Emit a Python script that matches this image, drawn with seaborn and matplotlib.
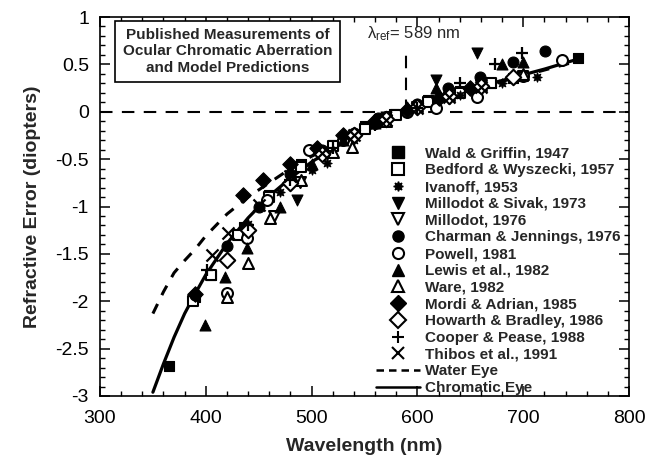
import matplotlib
matplotlib.use("Agg")
import matplotlib.pyplot as plt
from matplotlib.lines import Line2D
from matplotlib.ticker import MultipleLocator
import seaborn as sns
import pandas as pd

# ---- measurement data (wavelength in nm, refractive error in diopters) ----
wald_wl = [365, 390, 405, 436, 460, 490, 520, 550, 578, 610, 640, 670, 690, 752]
wald_re = [-2.68, -1.95, -1.72, -1.22, -0.88, -0.55, -0.35, -0.15, -0.02, 0.12, 0.22, 0.30, 0.36, 0.57]

bedford_wl = [388, 405, 430, 460, 490, 520, 550, 580, 610, 640, 670, 700]
bedford_re = [-2.00, -1.72, -1.30, -0.90, -0.58, -0.36, -0.18, -0.03, 0.10, 0.20, 0.30, 0.38]

ivanoff_wl = [440, 470, 500, 515, 540, 570, 600, 640, 680, 713]
ivanoff_re = [-1.18, -0.85, -0.62, -0.54, -0.30, -0.10, 0.05, 0.18, 0.30, 0.37]

sivak_wl = [486, 530, 570, 618, 656]
sivak_re = [-0.93, -0.30, -0.06, 0.34, 0.62]

millodot_wl = [464, 489, 510, 540, 570, 600, 630, 660]
millodot_re = [-1.10, -0.74, -0.44, -0.26, -0.10, 0.05, 0.15, 0.28]

charman_wl = [390, 420, 450, 480, 510, 540, 563, 600, 629, 659, 690, 721]
charman_re = [-1.93, -1.42, -1.00, -0.66, -0.40, -0.22, -0.07, 0.08, 0.25, 0.37, 0.53, 0.64]

powell_wl = [420, 439, 458, 498, 530, 560, 590, 618, 656, 700, 737]
powell_re = [-1.91, -1.33, -0.93, -0.40, -0.30, -0.12, 0.00, 0.04, 0.16, 0.38, 0.55]

lewis_wl = [399, 418, 439, 470, 500, 530, 560, 590, 618, 680, 700]
lewis_re = [-2.25, -1.74, -1.44, -1.00, -0.55, -0.30, -0.12, 0.05, 0.25, 0.50, 0.52]

ware_wl = [420, 440, 461, 490, 520, 538, 570, 600, 630, 660, 700]
ware_re = [-1.96, -1.60, -1.12, -0.72, -0.42, -0.37, -0.10, 0.06, 0.18, 0.28, 0.40]

mordi_wl = [390, 435, 454, 480, 505, 530, 560, 590, 620, 650]
mordi_re = [-1.92, -0.88, -0.72, -0.55, -0.38, -0.25, -0.10, 0.02, 0.15, 0.25]

howarth_wl = [420, 440, 480, 510, 540, 570, 600, 630, 660, 690]
howarth_re = [-1.56, -1.25, -0.75, -0.45, -0.25, -0.08, 0.05, 0.17, 0.27, 0.37]

cooper_wl = [401, 440, 480, 520, 560, 600, 640, 673, 699]
cooper_re = [-1.67, -1.20, -0.72, -0.38, -0.14, 0.04, 0.30, 0.50, 0.62]

thibos_wl = [406, 421, 450, 480, 510, 540, 570, 600, 630, 660]
thibos_re = [-1.51, -1.28, -0.98, -0.68, -0.44, -0.25, -0.09, 0.04, 0.16, 0.26]

# ---- model predictions ----
water_wl = [350, 360, 370, 380, 390, 400, 420, 440, 460, 480, 500, 520, 540, 560,
            580, 600, 620, 650, 680, 700, 720, 750]
water_re = [-2.13, -1.90, -1.70, -1.57, -1.45, -1.31, -1.08, -0.90, -0.75, -0.60, -0.47,
            -0.36, -0.25, -0.15, -0.05, 0.04, 0.12, 0.23, 0.32, 0.38, 0.44, 0.53]

chrom_wl = [350, 360, 370, 380, 390, 400, 420, 440, 460, 480, 500, 520, 540, 560,
            580, 600, 620, 640, 660, 680, 700, 720, 750]
chrom_re = [-2.96, -2.66, -2.38, -2.13, -1.92, -1.72, -1.39, -1.12, -0.89, -0.70, -0.53,
            -0.39, -0.26, -0.15, -0.05, 0.04, 0.12, 0.20, 0.27, 0.33, 0.39, 0.45, 0.55]

studies = [
    ("Wald & Griffin, 1947", wald_wl, wald_re, "s", True),
    ("Bedford & Wyszecki, 1957", bedford_wl, bedford_re, "s", False),
    ("Ivanoff, 1953", ivanoff_wl, ivanoff_re, (8, 1, 0), True),
    ("Millodot & Sivak, 1973", sivak_wl, sivak_re, "v", True),
    ("Millodot, 1976", millodot_wl, millodot_re, "v", False),
    ("Charman & Jennings, 1976", charman_wl, charman_re, "o", True),
    ("Powell, 1981", powell_wl, powell_re, "o", False),
    ("Lewis et al., 1982", lewis_wl, lewis_re, "^", True),
    ("Ware, 1982", ware_wl, ware_re, "^", False),
    ("Mordi & Adrian, 1985", mordi_wl, mordi_re, "D", True),
    ("Howarth & Bradley, 1986", howarth_wl, howarth_re, "D", False),
    ("Cooper & Pease, 1988", cooper_wl, cooper_re, "+", True),
    ("Thibos et al., 1991", thibos_wl, thibos_re, "x", True),
]

sns.set_theme(style="ticks")
plt.rcParams["font.family"] = ["Liberation Sans", "DejaVu Sans"]
plt.rcParams["mathtext.fontset"] = "custom"
plt.rcParams["mathtext.rm"] = "Liberation Sans"
plt.rcParams["mathtext.it"] = "Liberation Sans:italic"

fig = plt.figure(figsize=(6.48, 4.66), dpi=100)
ax = fig.add_axes([100 / 648, 1 - 396 / 466, 529 / 648, 379 / 466])

# reference lines
ax.axhline(0, color="black", lw=1.5, dashes=(6, 4.5), zorder=1)
ax.plot([589, 589], [0, 0.65], color="black", lw=1.5, dashes=(6, 4.5), zorder=1)

# model curves
model_df = pd.DataFrame({"wl": water_wl, "re": water_re})
sns.lineplot(data=model_df, x="wl", y="re", ax=ax, color="black", lw=2.2,
             dashes=False, zorder=2).lines[-1].set_dashes((3.5, 3.2))
chrom_df = pd.DataFrame({"wl": chrom_wl, "re": chrom_re})
sns.lineplot(data=chrom_df, x="wl", y="re", ax=ax, color="black", lw=2.3, zorder=2)

# measurements
handles = []
for label, wl, re_, mk, filled in studies:
    size = 62
    if mk == (8, 1, 0):
        size = 45
    if mk in ("+", "x"):
        sns.scatterplot(x=wl, y=re_, ax=ax, marker=mk, s=75, color="black",
                        linewidth=1.6, zorder=3)
        h = Line2D([], [], ls="none", marker=mk, color="black", markersize=9,
                   markeredgewidth=1.5)
    elif filled:
        sns.scatterplot(x=wl, y=re_, ax=ax, marker=mk, s=size, color="black",
                        edgecolor="black", linewidth=0.8, zorder=3)
        h = Line2D([], [], ls="none", marker=mk, markerfacecolor="black",
                   markeredgecolor="black", markersize=8 if mk != (8, 1, 0) else 7)
    else:
        sns.scatterplot(x=wl, y=re_, ax=ax, marker=mk, s=size, color="white",
                        edgecolor="black", linewidth=1.5, zorder=3)
        h = Line2D([], [], ls="none", marker=mk, markerfacecolor="white",
                   markeredgecolor="black", markeredgewidth=1.5, markersize=8)
    handles.append((h, label))

handles.append((Line2D([], [], color="black", lw=1.8, dashes=(3, 2)), "Water Eye"))
handles.append((Line2D([], [], color="black", lw=1.8), "Chromatic Eye"))

leg = ax.legend([h for h, _ in handles], [l for _, l in handles],
                loc="lower left", bbox_to_anchor=(0.52, 0.0), frameon=False,
                prop={"weight": "bold", "size": 11}, handlelength=2.9,
                handletextpad=0.3, labelspacing=0.18, borderpad=0.05,
                borderaxespad=0.0)

# title box
ax.text(0.241, 0.909, "Published Measurements of\nOcular Chromatic Aberration\nand Model Predictions",
        transform=ax.transAxes, ha="center", va="center", fontsize=11,
        fontweight="bold", linespacing=1.2,
        bbox=dict(boxstyle="square,pad=0.5", fc="white", ec="black", lw=1.2))

# reference wavelength label
ax.text(552, 0.82, r"$\mathregular{\lambda_{ref}}$= 589 nm", fontsize=12, ha="left",
        va="center")

ax.set_xlim(300, 800)
ax.set_ylim(-3, 1)
ax.xaxis.set_major_locator(MultipleLocator(100))
ax.xaxis.set_minor_locator(MultipleLocator(20))
ax.yaxis.set_minor_locator(MultipleLocator(0.1))
ax.set_yticks([1, 0.5, 0, -0.5, -1, -1.5, -2, -2.5, -3])
ax.set_yticklabels(["1", "0.5", "0", "-0.5", "-1", "-1.5", "-2", "-2.5", "-3"])
ax.tick_params(which="both", direction="in", top=True, right=True, colors="black",
               labelsize=14)
ax.tick_params(which="major", length=7, width=1.1)
ax.tick_params(axis="x", which="major", pad=10)
ax.tick_params(axis="y", which="major", pad=8)
ax.tick_params(which="minor", length=3.5, width=1.0)
for s in ax.spines.values():
    s.set_linewidth(1.2)
    s.set_color("black")

ax.set_xlabel("Wavelength (nm)", fontsize=14, fontweight="bold", labelpad=8)
ax.set_ylabel("Refractive Error (diopters)", fontsize=14, fontweight="bold", labelpad=10)

fig.savefig("out.png", dpi=100)
